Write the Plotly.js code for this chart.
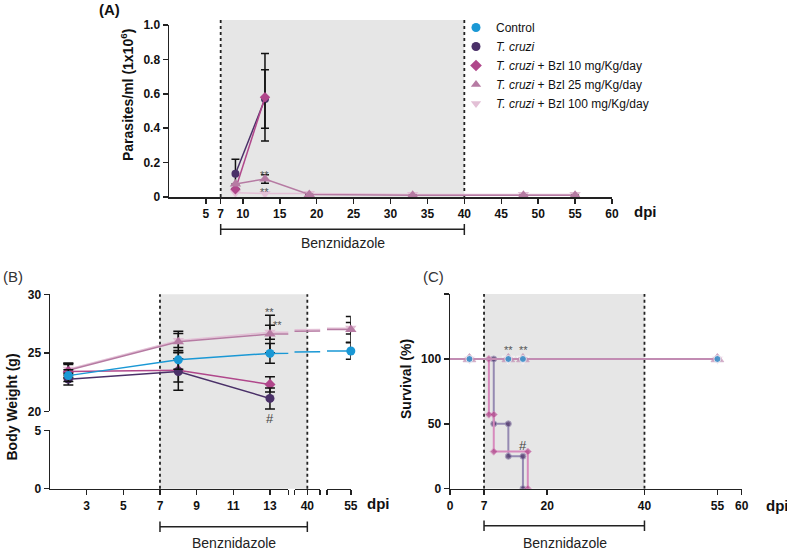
<!DOCTYPE html>
<html><head><meta charset="utf-8">
<script src="https://cdn.plot.ly/plotly-3.0.1.min.js"></script>
<style>html,body{margin:0;padding:0;background:#fff}</style>
</head><body><div id="chart" style="width:787px;height:552px"></div>
<script>
// ---------------- DATA ----------------
const seriesNames = ['Control', '<i>T. cruzi</i>', '<i>T. cruzi</i> + Bzl 10 mg/Kg/day',
  '<i>T. cruzi</i> + Bzl 25 mg/Kg/day', '<i>T. cruzi</i> + Bzl 100 mg/Kg/day'];

// (A) Parasitemia (parasites/ml x10^6)
const parasDaysTc = [9, 13];
const parasTc = [0.135, 0.57];
const parasTcErr = [0.085, 0.17];
const parasDaysBzl10 = [9, 13];
const parasBzl10 = [0.045, 0.58];
const parasBzl10Err = [0, 0.255];
const parasDaysBzl25 = [9, 13, 19, 33, 48, 55];
const parasBzl25 = [0.075, 0.105, 0.015, 0.01, 0.01, 0.01];
const parasBzl25Err = [0, 0.025, 0, 0, 0, 0];
const parasDaysBzl100 = [9, 13, 19, 33, 48, 55];
const parasBzl100 = [0.025, 0.02, 0.02, 0.015, 0.015, 0.015];

// (B) Body weight (g)
const weightDays = [2, 8, 13, 55];
const weightControl = [23.05, 24.4, 24.95, 25.15];
const weightControlErr = [0.5, 0.8, 0.85, 0.7];
const weightTc = [22.75, 23.4, 21.1, null];
const weightTcErr = [0.5, 1.6, 0.9, null];
const weightBzl10 = [23.4, 23.5, 22.3, null];
const weightBzl10Err = [0.6, 1.0, 0.65, null];
const weightBzl25 = [23.5, 25.95, 26.6, 27.0];
const weightBzl25Err = [0.6, 0.9, 1.6, 1.1];
const weightBzl100 = [23.6, 26.05, 26.75, 27.1];
const weightBzl100Err = [0.5, 0.6, 0.6, 0.5];

// (C) Survival (%)
const survDaysControl = [0, 4, 12, 15, 55];
const survControl = [100, 100, 100, 100, 100];
const survDaysTc = [0, 9, 9, 12, 12, 15, 15];
const survTc = [100, 100, 50, 50, 25, 25, 0];
const survDaysBzl10 = [0, 8, 8, 9, 9, 16, 16];
const survBzl10 = [100, 100, 57.1, 57.1, 28.6, 28.6, 0];
const survDaysBzl25 = [0, 4, 12, 15, 55];
const survBzl25 = [100, 100, 100, 100, 100];
const survDaysBzl100 = [0, 4, 12, 15, 55];
const survBzl100 = [100, 100, 100, 100, 100];

// Tick labels
const ticksAx = [5, 7, 10, 15, 20, 25, 30, 35, 40, 45, 50, 55, 60];
const ticksAy = [0, 0.2, 0.4, 0.6, 0.8, 1.0];
const ticksAyText = ['0', '0.2', '0.4', '0.6', '0.8', '1.0'];
const ticksBx = [3, 5, 7, 9, 11, 13];
const ticksByUpper = [20, 25, 30];
const ticksByLower = [0, 5];
const ticksCx = [0, 7, 20, 40, 55, 60];
const ticksCy = [0, 50, 100];

// ---------------- STYLE / LAYOUT ----------------
const W = 787, H = 552;
const fx = p => p / W;
const fy = p => 1 - p / H;
const FONT = 'Liberation Sans, Arial, Helvetica, sans-serif';
const COL = {ctrl: '#1a98d5', tc: '#4a3068', b10: '#b0478b', b25: '#b67ba3', b100: '#e3c0d6'};
const SHADE = '#e6e6e6';
const INK = '#222';

const baseAxis = () => ({
  showline: true, linecolor: INK, linewidth: 1.5,
  ticks: 'outside', ticklen: 5, tickwidth: 1.5, tickcolor: INK,
  showgrid: false, zeroline: false, fixedrange: true, tickmode: 'array',
  tickfont: {family: FONT, size: 12, color: '#111', weight: 'bold'}
});

// Panel B broken x axis segments
const bK = 18.33;
const bSeg = [
  {range: [1, 14], px0: 50, tv: ticksBx.concat([14]), tt: ticksBx.map(String).concat([''])},
  {range: [39.3, 40.7], px0: 294.5, tv: [39.31, 40, 40.69], tt: ['', '40', '']},
  {range: [53.7, 55], px0: 327, tv: [53.71, 55], tt: ['', '55']}
];
const bPx = (s, d) => bSeg[s].px0 + (d - bSeg[s].range[0]) * bK;

const layout = {
  width: W, height: H, autosize: false,
  margin: {l: 0, r: 0, t: 0, b: 0},
  paper_bgcolor: '#fff', plot_bgcolor: 'rgba(0,0,0,0)',
  hovermode: false,
  font: {family: FONT, color: INK},
  showlegend: true,
  legend: {x: fx(456), y: fy(13), xanchor: 'left', yanchor: 'top',
    font: {family: FONT, size: 12, color: '#111'}, bgcolor: 'rgba(0,0,0,0)',
    tracegroupgap: 0, itemsizing: 'trace'},
  // Panel A
  xaxis: Object.assign(baseAxis(), {domain: [fx(169), fx(612)], range: [0, 60], anchor: 'y', tickvals: ticksAx}),
  yaxis: Object.assign(baseAxis(), {domain: [fy(197), fy(25)], range: [0, 1], anchor: 'x', tickvals: ticksAy, ticktext: ticksAyText}),
  // Panel B
  yaxis2: Object.assign(baseAxis(), {domain: [fy(411.3), fy(294.3)], range: [20, 30], anchor: 'x2', tickvals: ticksByUpper}),
  yaxis3: Object.assign(baseAxis(), {domain: [fy(488.7), fy(430.3)], range: [0, 5], anchor: 'x2', tickvals: ticksByLower}),
  // Panel C
  xaxis5: Object.assign(baseAxis(), {domain: [fx(450), fx(741.7)], range: [0, 60], anchor: 'y4', tickvals: ticksCx}),
  yaxis4: Object.assign(baseAxis(), {domain: [fy(488.7), fy(294.1)], range: [0, 150], anchor: 'x5',
    tickvals: ticksCy.concat([150]), ticktext: ticksCy.map(String).concat([''])})
};
bSeg.forEach((s, i) => {
  layout['xaxis' + (i + 2)] = Object.assign(baseAxis(), {
    domain: [fx(s.px0), fx(s.px0 + (s.range[1] - s.range[0]) * bK)],
    range: s.range, anchor: 'y3', tickvals: s.tv, ticktext: s.tt
  });
});

// ---------------- TRACES ----------------
const traces = [];
const errY = (arr, w) => ({type: 'data', array: arr, visible: true, color: '#111', thickness: 1.5, width: w});

// empty traces so that the lower (0-5) body-weight axis segment exists
for (let i = 2; i <= 4; i++) traces.push({x: [null], y: [null], xaxis: 'x' + i, yaxis: 'y3', mode: 'markers', showlegend: false});

// Panel A
function addA(x, y, err, color, symbol, size) {
  const t = {x, y, xaxis: 'x', yaxis: 'y', mode: 'lines+markers', showlegend: false,
    line: {color, width: 1.5}, marker: {symbol, size, color}};
  if (err) t.error_y = errY(err, 4);
  traces.push(t);
}
addA(parasDaysBzl100, parasBzl100, null, COL.b100, 'triangle-down', 10);
addA(parasDaysTc, parasTc, parasTcErr, COL.tc, 'circle', 8);
addA(parasDaysBzl10, parasBzl10, parasBzl10Err, COL.b10, 'diamond', 8);
addA(parasDaysBzl25, parasBzl25, parasBzl25Err, COL.b25, 'triangle-up', 10);

// Panel B
const bSeries = [
  {y: weightBzl100, e: weightBzl100Err, c: COL.b100, s: 'triangle-down', z: 10, long: true},
  {y: weightBzl25, e: weightBzl25Err, c: COL.b25, s: 'triangle-up', z: 10, long: true},
  {y: weightBzl10, e: weightBzl10Err, c: COL.b10, s: 'diamond', z: 8.5, long: false},
  {y: weightTc, e: weightTcErr, c: COL.tc, s: 'circle', z: 9, long: false},
  {y: weightControl, e: weightControlErr, c: COL.ctrl, s: 'circle', z: 9, long: true}
];
// segment 1 (days 1-14)
bSeries.forEach(s => traces.push({x: weightDays, y: s.y, xaxis: 'x2', yaxis: 'y2', mode: 'lines+markers',
  showlegend: false, line: {color: s.c, width: 1.5}, marker: {symbol: s.s, size: s.z, color: s.c},
  error_y: errY(s.e, 5)}));
// segment 2 (around day 40): only connecting lines
bSeries.filter(s => s.long).forEach(s => traces.push({x: weightDays, y: s.y, xaxis: 'x3', yaxis: 'y2',
  mode: 'lines', showlegend: false, line: {color: s.c, width: 1.5}}));
// segment 3 (day 55)
bSeries.filter(s => s.long).forEach(s => traces.push({x: weightDays, y: s.y, xaxis: 'x4', yaxis: 'y2',
  mode: 'lines+markers', cliponaxis: false, showlegend: false, line: {color: s.c, width: 1.5},
  marker: {symbol: s.s, size: s.z, color: s.c}, error_y: errY(s.e, 5)}));

// Panel C (Kaplan-Meier steps)
function addC(x, y, lineColor, markColor, symbol, size, mode) {
  traces.push({x, y, xaxis: 'x5', yaxis: 'y4', mode: mode || 'lines+markers', showlegend: false,
    line: {color: lineColor, width: 2, shape: 'hv'},
    marker: {symbol, color: markColor, size: x.map((d, i) => i === 0 ? 0 : size)}});
}
addC(survDaysTc, survTc, '#958ab2', COL.tc, 'circle', 6);
addC(survDaysBzl10, survBzl10, '#d78abd', COL.b10, 'diamond', 5.5);
addC(survDaysBzl100, survBzl100, COL.b100, COL.b100, 'triangle-down', 11);
addC(survDaysBzl25, survBzl25, '#c28cb3', COL.b25, 'triangle-up', 11);
addC(survDaysControl, survControl, COL.ctrl, COL.ctrl, 'circle', 7, 'markers');

// Legend entries (symbols only)
const legSym = [['circle', COL.ctrl, 9], ['circle', COL.tc, 9], ['diamond', COL.b10, 9],
  ['triangle-up', COL.b25, 9], ['triangle-down', COL.b100, 9]];
seriesNames.forEach((n, i) => traces.push({x: [null], y: [null], xaxis: 'x', yaxis: 'y', mode: 'markers',
  name: n, showlegend: true, marker: {symbol: legSym[i][0], color: legSym[i][1], size: legSym[i][2]}}));

// ---------------- SHAPES ----------------
const shapes = [];
const dotLine = {color: INK, width: 1.8, dash: 'dot'};
const solid = {color: INK, width: 1.5};
// A
shapes.push({type: 'rect', xref: 'x', yref: 'paper', x0: 7, x1: 40, y0: fy(197), y1: fy(20), fillcolor: SHADE, line: {width: 0}, layer: 'below'});
[7, 40].forEach(d => shapes.push({type: 'line', xref: 'x', yref: 'paper', x0: d, x1: d, y0: fy(197), y1: fy(20), line: dotLine, layer: 'below'}));
shapes.push({type: 'line', xref: 'x', yref: 'paper', x0: 7, x1: 40, y0: fy(229.3), y1: fy(229.3), line: solid});
[7, 40].forEach(d => shapes.push({type: 'line', xref: 'x', yref: 'paper', x0: d, x1: d, y0: fy(224), y1: fy(235), line: solid}));
// B
const b7 = bPx(0, 7), b40 = bPx(1, 40);
shapes.push({type: 'rect', xref: 'paper', yref: 'paper', x0: fx(b7), x1: fx(b40), y0: fy(488.7), y1: fy(294.3), fillcolor: SHADE, line: {width: 0}, layer: 'below'});
[b7, b40].forEach(p => shapes.push({type: 'line', xref: 'paper', yref: 'paper', x0: fx(p), x1: fx(p), y0: fy(488.7), y1: fy(294.3), line: dotLine, layer: 'below'}));
shapes.push({type: 'line', xref: 'paper', yref: 'paper', x0: fx(b7), x1: fx(b40), y0: fy(526.7), y1: fy(526.7), line: solid});
[b7, b40].forEach(p => shapes.push({type: 'line', xref: 'paper', yref: 'paper', x0: fx(p), x1: fx(p), y0: fy(521.5), y1: fy(532), line: solid}));
// C
shapes.push({type: 'rect', xref: 'x5', yref: 'y4', x0: 7, x1: 40, y0: 0, y1: 150, fillcolor: SHADE, line: {width: 0}, layer: 'below'});
[7, 40].forEach(d => shapes.push({type: 'line', xref: 'x5', yref: 'y4', x0: d, x1: d, y0: 0, y1: 150, line: dotLine, layer: 'below'}));
shapes.push({type: 'line', xref: 'x5', yref: 'paper', x0: 7, x1: 40, y0: fy(525.7), y1: fy(525.7), line: solid});
[7, 40].forEach(d => shapes.push({type: 'line', xref: 'x5', yref: 'paper', x0: d, x1: d, y0: fy(520.5), y1: fy(531), line: solid}));
layout.shapes = shapes;

// ---------------- ANNOTATIONS ----------------
const ann = [];
const txt = (text, x, y, o) => ann.push(Object.assign({text, x, y, xref: 'paper', yref: 'paper', showarrow: false,
  xanchor: 'center', yanchor: 'middle', font: {family: FONT, size: 12, color: INK}}, o || {}));
const bold = (s) => ({family: FONT, size: s, color: '#111', weight: 'bold'});
// panel labels
txt('(A)', fx(97), fy(10), {xanchor: 'left', font: bold(15)});
txt('(B)', fx(1), fy(276.5), {xanchor: 'left', font: {family: FONT, size: 15, color: '#333'}});
txt('(C)', fx(420.5), fy(276.7), {xanchor: 'left', font: {family: FONT, size: 15, color: '#333'}});
// axis titles
txt('Parasites/ml (1x10<sup>6</sup>)', fx(127), fy(95), {textangle: -90, font: bold(14)});
txt('Body Weight (g)', fx(11), fy(407.5), {textangle: -90, font: bold(14)});
txt('Survival (%)', fx(406), fy(379), {textangle: -90, font: bold(14)});
txt('dpi', fx(645), fy(211), {font: bold(15)});
txt('dpi', fx(378), fy(503.5), {font: bold(15)});
txt('dpi', fx(777), fy(505), {font: bold(15)});
// Benznidazole
txt('Benznidazole', fx(342.9), fy(243), {font: {family: FONT, size: 14, color: INK}});
txt('Benznidazole', fx((b7 + b40) / 2), fy(543.3), {font: {family: FONT, size: 14, color: INK}});
txt('Benznidazole', fx(564.5), fy(543.3), {font: {family: FONT, size: 14, color: INK}});
// significance marks
const sig = {family: FONT, size: 11, color: '#555'};
txt('**', 13, 0.13, {xref: 'x', yref: 'y', font: sig});
txt('**', 13, 0.027, {xref: 'x', yref: 'y', font: sig});
txt('**', 13, 28.45, {xref: 'x2', yref: 'y2', font: sig});
txt('**', 13.4, 27.4, {xref: 'x2', yref: 'y2', font: sig});
txt('#', 13, 21.1, {xref: 'x2', yref: 'y2', yshift: -20, font: {family: FONT, size: 13, color: '#444'}});
txt('**', 12, 106.6, {xref: 'x5', yref: 'y4', font: sig});
txt('**', 15.2, 106.6, {xref: 'x5', yref: 'y4', font: sig});
txt('#', 15.1, 33, {xref: 'x5', yref: 'y4', font: {family: FONT, size: 13, color: '#444'}});
layout.annotations = ann;

Plotly.newPlot('chart', traces, layout, {staticPlot: true, displayModeBar: false});
</script>
</body></html>
